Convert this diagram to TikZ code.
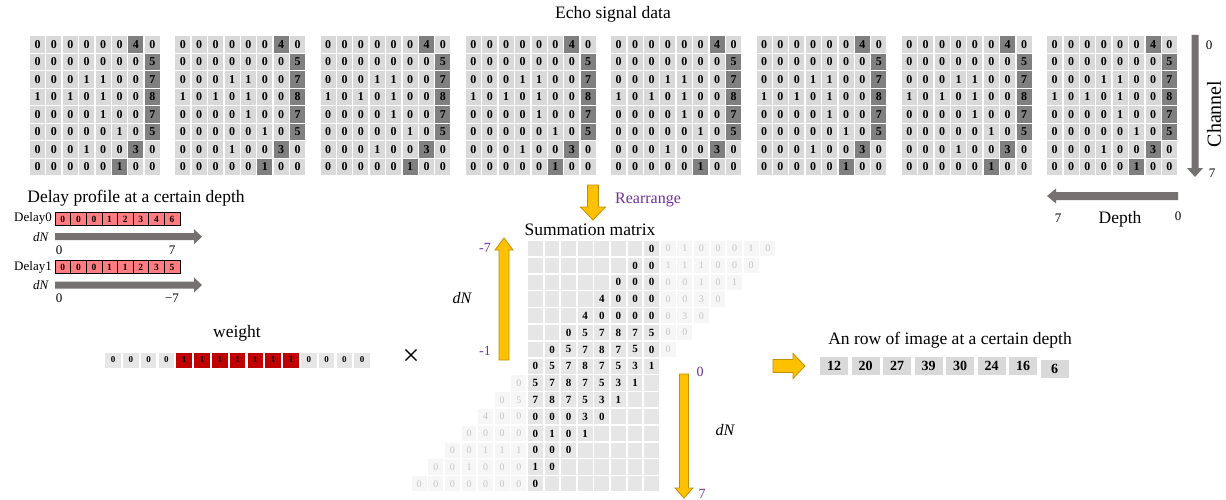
\documentclass[tikz,border=0pt]{standalone}
\usepackage{fontspec}
\setmainfont{Liberation Serif}
\definecolor{ltc}{HTML}{D9D9D9}
\definecolor{dkc}{HTML}{808080}
\definecolor{smc}{HTML}{E6E6E6}
\definecolor{fdbg}{HTML}{F6F6F6}
\definecolor{fdtx}{HTML}{C4C4C4}
\definecolor{purp}{HTML}{7030A0}
\definecolor{gold}{HTML}{FFC000}
\definecolor{goldb}{HTML}{BF9000}
\definecolor{arrg}{HTML}{767171}
\definecolor{dlred}{HTML}{FF7C80}
\definecolor{wred}{HTML}{C00000}
\definecolor{wgray}{HTML}{E7E6E6}
% block arrow: style, x, y, angle, length, shaft half, head half, head length
\newcommand\blockarr[8]{\path[#1,shift={(#2,#3)},rotate=#4] (0,-#6) -- ({#5-#8},-#6) -- ({#5-#8},-#7) -- (#5,0) -- ({#5-#8},#7) -- ({#5-#8},#6) -- (0,#6) -- cycle;}
\tikzset{
  title/.style={font=\fontsize{17.5}{20}\selectfont, inner sep=0},
  small/.style={font=\fontsize{13}{15}\selectfont, inner sep=0},
  ecell/.style={minimum width=15, minimum height=16.5, inner sep=0, font=\fontsize{12}{12}\selectfont\bfseries},
  sbg/.style={fill=smc, minimum width=14.8, minimum height=15.2, inner sep=0},
  stext/.style={inner sep=0, font=\fontsize{11}{11}\selectfont\bfseries},
  fcell/.style={fill=fdbg, text=fdtx, minimum width=14.8, minimum height=15.2, inner sep=0, font=\fontsize{10}{10}\selectfont},
  dcell/.style={fill=dlred, draw=black, line width=0.6, minimum width=15.6, minimum height=12.5, inner sep=0, font=\fontsize{9.5}{9.5}\selectfont\bfseries},
  wcell/.style={minimum width=15.5, minimum height=15, inner sep=0, font=\fontsize{9}{9}\selectfont\bfseries},
  rcell/.style={fill=ltc, minimum width=28, minimum height=18, inner sep=0, font=\fontsize{14}{14}\selectfont\bfseries},
  goldarr/.style={fill=gold, draw=goldb, line width=0.8},
  grayarr/.style={fill=arrg},
  purplab/.style={text=purp, font=\fontsize{14}{16}\selectfont, inner sep=0},
}
\begin{document}
\begin{tikzpicture}[x=1pt,y=-1pt]
\useasboundingbox (0,0) rectangle (1226,500);
\fill[white] (0,0) rectangle (1226,500);

% ---------- Echo signal data ----------
\node[title] (echo) at (613,14) {Echo signal data};
\foreach \mm in {0,...,7}{
  \foreach \rr/\dk/\vals in {0/6/{0,0,0,0,0,0,4,0},1/7/{0,0,0,0,0,0,0,5},2/7/{0,0,0,1,1,0,0,7},3/7/{1,0,1,0,1,0,0,8},4/7/{0,0,0,0,1,0,0,7},5/7/{0,0,0,0,0,1,0,5},6/6/{0,0,0,1,0,0,3,0},7/5/{0,0,0,0,0,1,0,0}}{
    \foreach \vv [count=\cc from 0] in \vals {
      \ifnum\cc=\dk\relax\def\cf{dkc}\else\def\cf{ltc}\fi
      \node[ecell,fill=\cf] (e\mm-\rr-\cc) at ({37.5+145.3*\mm+16.4*\cc},{44.3+17.5*\rr}) {\vv};
    }}}

% channel / depth
\blockarr{grayarr}{1195}{35}{-90}{142}{3.5}{8}{9}
\node[small] (ch0) at (1209,45) {0};
\node[small] (ch7) at (1212,173) {7};
\node[title, font=\fontsize{20}{22}\selectfont, rotate=90] (chan) at (1214,114) {Channel};
\blockarr{grayarr}{1178}{196}{180}{131}{4}{7.5}{9}
\node[small] (dp7) at (1058,218) {7};
\node[title] (depth) at (1120,219) {Depth};
\node[small] (dp0) at (1178,216) {0};

% ---------- Delay profile ----------
\node[title] (delayprof) at (136,198) {Delay profile at a certain depth};
\node[small] (dl0) at (33,218) {Delay0};
\foreach \vv [count=\kk from 0] in {0,0,0,1,2,3,4,6}
  \node[dcell] (da-\kk) at ({62.8+15.6*\kk},219) {\vv};
\node[small] (dn0) at (41,237) {\textit{dN}};
\blockarr{grayarr}{55}{236.7}{0}{147}{3.5}{7.5}{8}
\node[small] (da0) at (59,250) {0};
\node[small] (da7) at (172,250) {7};
\node[small] (dl1) at (33,267) {Delay1};
\foreach \vv [count=\kk from 0] in {0,0,0,1,1,2,3,5}
  \node[dcell] (db-\kk) at ({62.8+15.6*\kk},267) {\vv};
\node[small] (dn1) at (41,285) {\textit{dN}};
\blockarr{grayarr}{55}{285}{0}{147}{3.5}{7.5}{8}
\node[small] (db0) at (59,298) {0};
\node[small] (db7) at (172,298) {−7};

% ---------- weight ----------
\node[title] (weight) at (237,333) {weight};
\foreach \vv [count=\kk from 0] in {0,0,0,0,1,1,1,1,1,1,1,0,0,0,0}{
  \ifnum\vv=1\relax\def\cf{wred}\else\def\cf{wgray}\fi
  \node[wcell,fill=\cf] (w-\kk) at ({113+17.8*\kk},360) {\vv};
}
\node[font=\fontsize{30}{30}\selectfont, inner sep=0] (times) at (411,357) {×};

% ---------- Summation matrix ----------
\blockarr{goldarr}{593}{185}{-90}{35}{5.5}{12.5}{13}
\node[purplab, font=\fontsize{16}{18}\selectfont] (rearr) at (648,200) {Rearrange};
\node[title] (summ) at (590,230) {Summation matrix};
\foreach \rr in {0,...,14}
  \foreach \cc in {0,...,7}
    \node[sbg] (b\rr-\cc) at ({535.4+16.6*\cc},{248.6+16.8*\rr}) {};
\foreach \rr/\vals in {0/{0,0,1,0,0,0,1,0},1/{0,0,1,1,1,0,0,0},2/{0,0,0,0,0,1,0,1},3/{4,0,0,0,0,0,3,0},4/{4,0,0,0,0,0,3,0},5/{0,5,7,8,7,5,0,0},6/{0,5,7,8,7,5,0,0},7/{0,5,7,8,7,5,3,1},8/{0,5,7,8,7,5,3,1},9/{0,5,7,8,7,5,3,1},10/{4,0,0,0,0,0,3,0},11/{0,0,0,0,0,1,0,1},12/{0,0,1,1,1,0,0,0},13/{0,0,1,0,0,0,1,0},14/{0,0,0,0,0,0,0,0}}{
  \foreach \vv [count=\kk from 0] in \vals {
    \pgfmathtruncatemacro\cc{7-\rr+\kk}
    \ifnum\cc<0\relax\def\sty{fcell}\else\ifnum\cc>7\relax\def\sty{fcell}\else\def\sty{stext}\fi\fi
    \node[\sty] (s\rr-\kk) at ({535.4+16.6*\cc},{248.6+16.8*\rr}) {\vv};
  }}

% dN arrows
\blockarr{goldarr}{504}{360}{90}{122}{5}{9}{12}
\node[purplab] (up7) at (485,248) {-7};
\node[purplab] (up1) at (485,351) {-1};
\node[title, font=\fontsize{16}{18}\selectfont\itshape] (dnup) at (462,298) {dN};
\blockarr{goldarr}{684}{374}{-90}{124}{4.5}{9}{10}
\node[purplab] (dw0) at (700,372) {0};
\node[purplab] (dw7) at (702,494) {7};
\node[title, font=\fontsize{16}{18}\selectfont\itshape] (dndw) at (725,430) {dN};

% ---------- row of image ----------
\blockarr{goldarr}{773}{366}{0}{32}{6.5}{12.5}{12}
\node[title] (rowimg) at (950,340) {An row of image at a certain depth};
\foreach \vv [count=\kk from 0] in {12,20,27,39,30,24,16}
  \node[rcell] (r-\kk) at ({834+31.5*\kk},366) {\vv};
\node[rcell] (r-7) at (1054.5,368.5) {6};
\end{tikzpicture}
\end{document}
